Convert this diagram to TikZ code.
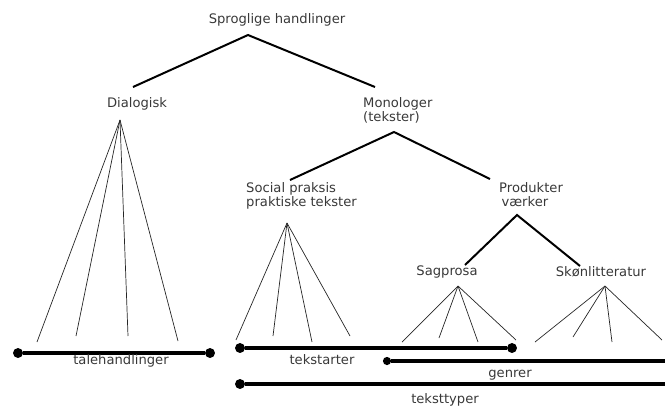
\documentclass[tikz,border=0pt]{standalone}
\usepackage{fontspec}
\setmainfont{DejaVu Sans}
\usetikzlibrary{positioning}

\begin{document}
\begin{tikzpicture}[
              x=0.03cm, y=-0.03cm,
              every node/.style={font=\fontsize{11.2}{12}\selectfont, text=black!78, inner sep=0pt},
              branch/.style={draw, line width=1.7pt},
              fan/.style={draw, line width=0.6pt, black!85},
              bar/.style={draw, line width=2.8pt},
              dot/.style={circle, fill, inner sep=0pt, minimum size=8.5pt}
            ]
            \useasboundingbox (0,0) rectangle (665,407);

            % Headings
            \node (root) at (277,20) {Sproglige handlinger};
            \node (dia) at (137,104) {Dialogisk};
            \node[align=left, anchor=north west] (mono) at (363,97) {Monologer\\(tekster)};
            \node[align=left, anchor=north west] (soc) at (246,182) {Social praksis\\praktiske tekster};
            \node[align=left, anchor=north west] (prod) at (499,182) {Produkter\\\hspace{2pt}værker};
            \node (sag) at (447,272) {Sagprosa};
            \node (skon) at (601,272) {Skønlitteratur};

            % Branch points
            \coordinate (rootA) at (248,35);
            \coordinate (rootL) at (133,87);
            \coordinate (rootR) at (375,87);
            \coordinate (monoA) at (394,132);
            \coordinate (monoL) at (290,180);
            \coordinate (monoR) at (490,179);
            \coordinate (prodA) at (517,215);
            \coordinate (prodL) at (465,265);
            \coordinate (prodR) at (580,266);

            \draw[branch] (rootL) -- (rootA) -- (rootR);
            \draw[branch] (monoL) -- (monoA) -- (monoR);
            \draw[branch] (prodL) -- (prodA) -- (prodR);

            % Fans
            \coordinate (diaA) at (120,120);
            \coordinate (socA) at (287,223);
            \coordinate (sagA) at (458,286);
            \coordinate (skonA) at (605,286);
            \foreach \x/\y [count=\i] in {37/342, 76/336, 128/336, 178/341}
              \draw[fan] (diaA) -- (\x,\y) coordinate (dia\i);
            \foreach \x/\y [count=\i] in {236/340, 273/336, 312/342, 350/336}
              \draw[fan] (socA) -- (\x,\y) coordinate (soc\i);
            \foreach \x/\y [count=\i] in {402/342, 439/338, 478/342, 516/340}
              \draw[fan] (sagA) -- (\x,\y) coordinate (sag\i);
            \foreach \x/\y [count=\i] in {535/342, 573/337, 612/342, 662/340}
              \draw[fan] (skonA) -- (\x,\y) coordinate (skon\i);

            % Bars
            \node[dot] (taleL) at (18,353) {};
            \node[dot] (taleR) at (210,353) {};
            \draw[bar] (taleL) -- (taleR);
            \node (tale) at (121,361) {talehandlinger};

            \node[dot] (artL) at (240,348) {};
            \node[dot] (artR) at (512,348) {};
            \draw[bar] (artL) -- (artR);
            \node (art) at (322,360) {tekstarter};

            \node[dot, minimum size=7pt] (genL) at (387,361) {};
            \coordinate (genR) at (665,361);
            \draw[bar] (genL) -- (genR);
            \node (gen) at (510,375) {genrer};

            \node[dot] (typL) at (240,384) {};
            \coordinate (typR) at (665,384);
            \draw[bar] (typL) -- (typR);
            \node (typ) at (445,400) {teksttyper};

\end{tikzpicture}
\end{document}
